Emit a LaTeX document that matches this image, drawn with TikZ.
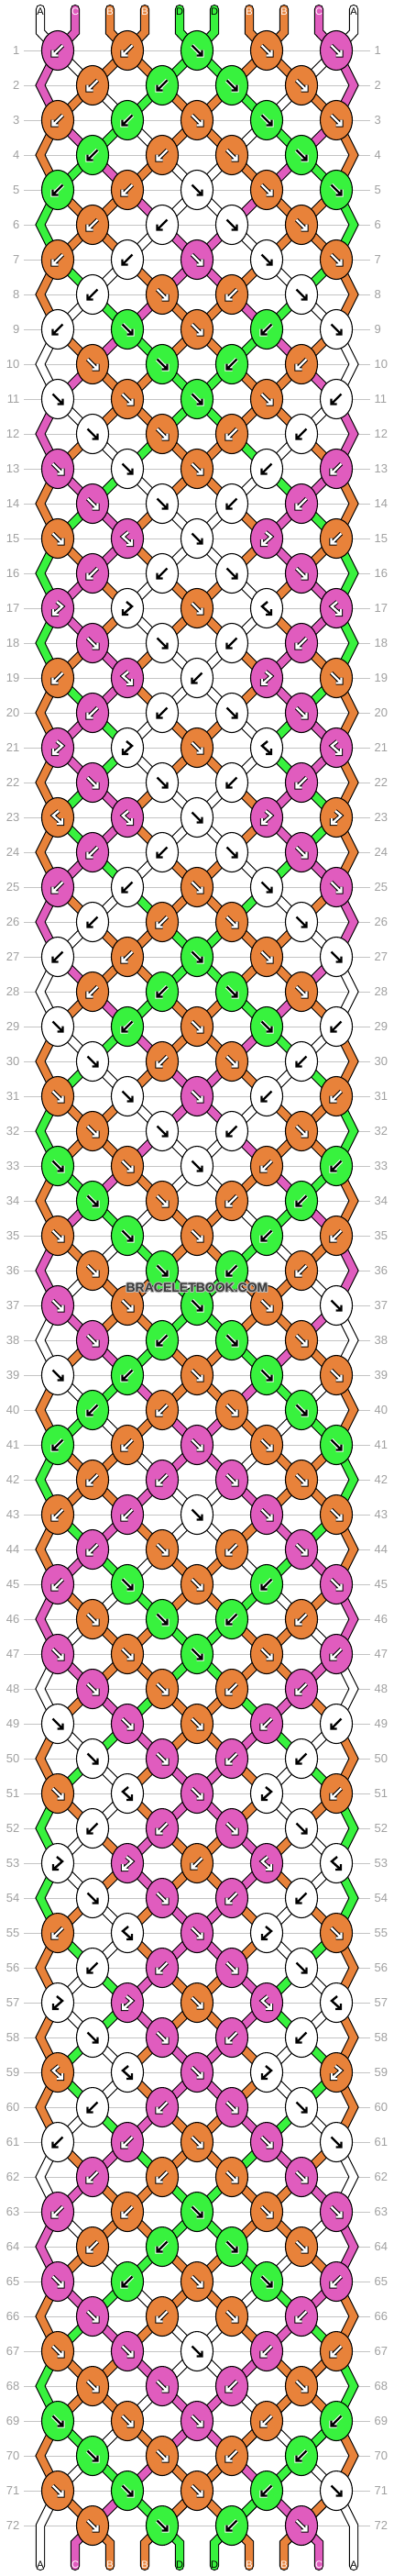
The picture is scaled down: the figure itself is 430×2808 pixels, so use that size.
\documentclass[tikz,border=0pt]{standalone}
\usepackage{fontspec}
\setmainfont{Liberation Sans}
\usetikzlibrary{shapes.geometric}
\definecolor{colA}{HTML}{FFFFFF}
\definecolor{colB}{HTML}{E8823A}
\definecolor{colC}{HTML}{E05CBE}
\definecolor{colD}{HTML}{38F23E}
\definecolor{rowline}{HTML}{C4C4C4}
\definecolor{rownumc}{HTML}{A0A0A0}
\definecolor{wmark}{HTML}{3A3A3A}
\pgfdeclarelayer{paper}
\pgfdeclarelayer{back}
\pgfdeclarelayer{strands}
\pgfsetlayers{paper,back,strands,main}

% ---- knot types per row (L = backward, R = forward, f = forward-backward, b = backward-forward)
\def\defrow#1#2{\expandafter\def\csname rt#1\endcsname{#2}}
\defrow{1}{LLRRR}\defrow{2}{LLRR}\defrow{3}{LLRRR}\defrow{4}{LLRR}
\defrow{5}{LLRRR}\defrow{6}{LLRR}\defrow{7}{LLRRR}\defrow{8}{LRLR}
\defrow{9}{LRRLR}\defrow{10}{RRLL}\defrow{11}{RRRRL}\defrow{12}{RRLL}
\defrow{13}{RRRLL}\defrow{14}{RRLL}\defrow{15}{RfRbL}\defrow{16}{LLRR}
\defrow{17}{bbRff}\defrow{18}{RRLL}\defrow{19}{LfLbR}\defrow{20}{LLRR}
\defrow{21}{bbRff}\defrow{22}{RRLL}\defrow{23}{ffRbb}\defrow{24}{LLRR}
\defrow{25}{LLRRR}\defrow{26}{LLRR}\defrow{27}{LLRRR}\defrow{28}{LLRR}
\defrow{29}{RLRRL}\defrow{30}{RLRL}\defrow{31}{RRRLL}\defrow{32}{RRLR}
\defrow{33}{RRRLL}\defrow{34}{RRLL}\defrow{35}{RRRLL}\defrow{36}{RRLL}
\defrow{37}{RRRRR}\defrow{38}{RLRR}\defrow{39}{RLRRR}\defrow{40}{LLRR}
\defrow{41}{LLRRR}\defrow{42}{LLRR}\defrow{43}{LLRRR}\defrow{44}{LRLR}
\defrow{45}{LRRLR}\defrow{46}{RRLL}\defrow{47}{RRRRL}\defrow{48}{RRLL}
\defrow{49}{RRRLL}\defrow{50}{RRLL}\defrow{51}{RfRbL}\defrow{52}{LLRR}
\defrow{53}{bbLff}\defrow{54}{RRLL}\defrow{55}{LfRbR}\defrow{56}{LLRR}
\defrow{57}{bbRff}\defrow{58}{RRLL}\defrow{59}{ffRbb}\defrow{60}{LLRR}
\defrow{61}{LLRRR}\defrow{62}{LLRR}\defrow{63}{LLRRR}\defrow{64}{LLRR}
\defrow{65}{RLRRL}\defrow{66}{RLRL}\defrow{67}{RRRLL}\defrow{68}{RRLR}
\defrow{69}{RRRLL}\defrow{70}{RRLL}\defrow{71}{RRRLR}\defrow{72}{RRLR}

% ---- simulation of the strings
\newcount\rr \newcount\jj \newcount\pp \newcount\qq
\def\setst#1#2{\expandafter\xdef\csname st#1\endcsname{#2}}
\setst{1}{A}\setst{2}{C}\setst{3}{B}\setst{4}{B}\setst{5}{D}
\setst{6}{D}\setst{7}{B}\setst{8}{B}\setst{9}{C}\setst{10}{A}
\def\recst#1{\expandafter\xdef\csname sa-\the\rr-#1\endcsname{\csname st#1\endcsname}}
\def\recordrow{\recst{1}\recst{2}\recst{3}\recst{4}\recst{5}\recst{6}\recst{7}\recst{8}\recst{9}\recst{10}}
\def\doknot#1{%
  \ifodd\rr \pp=\numexpr2*\jj-1\relax \else \pp=\numexpr2*\jj\relax \fi
  \qq=\numexpr\pp+1\relax
  \edef\lc{\csname st\the\pp\endcsname}%
  \edef\rc{\csname st\the\qq\endcsname}%
  \let\kcol\rc
  \if#1R\let\kcol\lc\fi
  \if#1f\let\kcol\lc\fi
  \expandafter\xdef\csname kc-\the\rr-\the\jj\endcsname{\kcol}%
  \expandafter\xdef\csname kt-\the\rr-\the\jj\endcsname{#1}%
  \if#1R\setst{\the\pp}{\rc}\setst{\the\qq}{\lc}\fi
  \if#1L\setst{\the\pp}{\rc}\setst{\the\qq}{\lc}\fi
}
\def\prow#1{\ifx\relax#1\else\advance\jj by 1 \doknot{#1}\expandafter\prow\fi}
\def\processrow{\jj=0 \expandafter\expandafter\expandafter\prow\csname rt\the\rr\endcsname\relax}
\def\simrows{\ifnum\rr<72 \advance\rr by 1 \processrow\recordrow\expandafter\simrows\fi}
\rr=0 \recordrow \simrows

% ---- arrow glyphs (y axis points down)
\def\apathR{(-5.5,-5.5) -- (5.5,5.5) (-0.5,5.5) -- (5.5,5.5) -- (5.5,-0.5)}
\def\apathL{(5.5,-5.5) -- (-5.5,5.5) (0.5,5.5) -- (-5.5,5.5) -- (-5.5,-0.5)}
\def\apathf{(1,-7) -- (-5,-2) -- (5,7) (-1,7) -- (5,7) -- (5,1)}
\def\apathb{(-1,-7) -- (5,-2) -- (-5,7) (1,7) -- (-5,7) -- (-5,1)}
\newcommand\drawarrow[4]{%
  \expandafter\let\expandafter\curpath\csname apath#2\endcsname
  \if#1B\def\aout{black}\def\ain{white}\else
  \if#1C\def\aout{black}\def\ain{white}\else
  \def\aout{white}\def\ain{black}\fi\fi
  \begin{scope}[shift={(#3,#4)}]
    \draw[line width=4.4, \aout, line join=miter] \curpath;
    \draw[line width=2.4, \ain, line join=miter] \curpath;
  \end{scope}}

\begin{document}
\begin{tikzpicture}[x=1pt,y=-1pt,
  knot/.style={ellipse, draw=black, line width=1.1, minimum width=35, minimum height=43, inner sep=0pt},
  strand/.style={draw=black, line width=1.1, double=#1, double distance=8, line cap=round, line join=miter},
  rownum/.style={text=rownumc, font=\fontsize{13}{13}\selectfont, inner sep=0pt},
  endlabel/.style={font=\fontsize{11}{11}\selectfont, inner sep=0pt}]
\begin{pgfonlayer}{paper}
\fill[white] (0,0) rectangle (430,2808);
\end{pgfonlayer}
\useasboundingbox (0,0) rectangle (430,2808);

% knots
\foreach \rw in {1,...,72}{
  \pgfmathtruncatemacro\nk{mod(\rw,2)==1 ? 5 : 4}
  \pgfmathsetmacro\yy{55+38*(\rw-1)}
  \foreach \kj in {1,...,\nk}{
    \pgfmathsetmacro\xx{mod(\rw,2)==1 ? 76*\kj-13 : 76*\kj+25}
    \edef\kc{\csname kc-\rw-\kj\endcsname}
    \edef\kt{\csname kt-\rw-\kj\endcsname}
    \node[knot, fill=col\kc] (k-\rw-\kj) at (\xx,\yy) {};
    \drawarrow{\kc}{\kt}{\xx}{\yy}
  }
}

% string end labels
\foreach \ps/\lab/\tc in {1/A/black,2/C/white,3/B/white,4/B/white,5/D/black,6/D/black,7/B/white,8/B/white,9/C/white,10/A/black}{
  \pgfmathsetmacro\xx{44+38*(\ps-1)}
  \node[endlabel, text=\tc] (lt-\ps) at (\xx,12.5) {\lab};
  \node[endlabel, text=\tc] (lb-\ps) at (\xx,2796) {\lab};
}

% watermark
\foreach \dx/\dy in {-1/0,1/0,0/-1,0/1,-0.8/-0.8,0.8/0.8,-0.8/0.8,0.8/-0.8}{
  \node[font=\bfseries\fontsize{14}{14}\selectfont, text=gray!55] at (215+\dx,1404+\dy) {BRACELETBOOK.COM};
}
\node[font=\bfseries\fontsize{14}{14}\selectfont, text=wmark] (wm) at (215,1404) {BRACELETBOOK.COM};

% strings
\begin{pgfonlayer}{strands}
\foreach \ps in {1,...,10}{
  \pgfmathsetmacro\xx{44+38*(\ps-1)}
  \pgfmathtruncatemacro\ce{(\ps+1)/2}
  \coordinate (top-\ps) at (\xx,10);
  \coordinate (topb-\ps) at (\xx,35);
  \edef\sc{\csname sa-0-\ps\endcsname}
  \draw[strand=col\sc] (top-\ps) -- (topb-\ps) -- (k-1-\ce.center);
}
\foreach \rw in {1,...,71}{
  \pgfmathtruncatemacro\rn{\rw+1}
  \foreach \ps in {2,...,9}{
    \pgfmathtruncatemacro\ce{(\ps+1)/2}
    \pgfmathtruncatemacro\fl{\ps/2}
    \ifodd\rw\relax \edef\ka{\ce}\edef\kb{\fl}\else \edef\ka{\fl}\edef\kb{\ce}\fi
    \edef\sc{\csname sa-\rw-\ps\endcsname}
    \draw[strand=col\sc] (k-\rw-\ka.center) -- (k-\rn-\kb.center);
  }
}
\foreach \rw in {2,4,...,72}{
  \pgfmathsetmacro\yy{55+38*(\rw-1)}
  \pgfmathtruncatemacro\rp{\rw-1}
  \pgfmathtruncatemacro\rn{\rw+1}
  \coordinate (eL-\rw) at (44,\yy);
  \coordinate (eR-\rw) at (386,\yy);
  \edef\scl{\csname sa-\rp-1\endcsname}
  \edef\scr{\csname sa-\rp-10\endcsname}
  \ifnum\rw<72
    \draw[strand=col\scl] (k-\rp-1.center) -- (eL-\rw) -- (k-\rn-1.center);
    \draw[strand=col\scr] (k-\rp-5.center) -- (eR-\rw) -- (k-\rn-5.center);
  \else
    \coordinate (botL) at (44,2797);
    \coordinate (botR) at (386,2797);
    \draw[strand=col\scl] (k-\rp-1.center) -- (eL-\rw) -- (botL);
    \draw[strand=col\scr] (k-\rp-5.center) -- (eR-\rw) -- (botR);
  \fi
}
\foreach \ps in {2,...,9}{
  \pgfmathsetmacro\xx{44+38*(\ps-1)}
  \pgfmathtruncatemacro\fl{\ps/2}
  \coordinate (botb-\ps) at (\xx,2772);
  \coordinate (bot-\ps) at (\xx,2797);
  \edef\sc{\csname sa-72-\ps\endcsname}
  \draw[strand=col\sc] (k-72-\fl.center) -- (botb-\ps) -- (bot-\ps);
}
\end{pgfonlayer}

% row lines and numbers
\begin{pgfonlayer}{back}
\foreach \rw in {1,...,72}{
  \pgfmathsetmacro\yy{55+38*(\rw-1)}
  \coordinate (rl-\rw) at (26,\yy);
  \coordinate (rr-\rw) at (404,\yy);
  \draw[rowline, line width=1] (rl-\rw) -- (rr-\rw);
  \node[rownum, anchor=east] (nl-\rw) at (21.5,\yy) {\rw};
  \node[rownum, anchor=west] (nr-\rw) at (408.5,\yy) {\rw};
}
\end{pgfonlayer}
\end{tikzpicture}
\end{document}
